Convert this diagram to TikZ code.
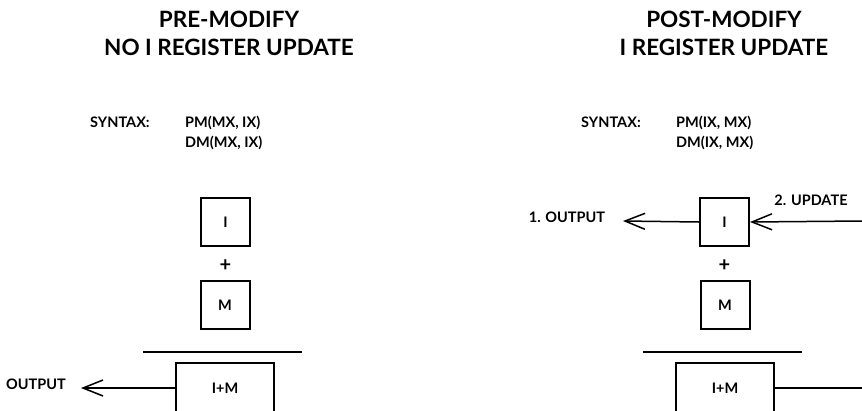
\documentclass[tikz,border=0pt]{standalone}
\usepackage{fontspec}
\setmainfont{Lato}
\usetikzlibrary{arrows.meta}

\begin{document}
\begin{tikzpicture}[x=1pt, y=-1pt,
    every node/.style={font=\bfseries\fontsize{14.5}{20}\selectfont, inner sep=0pt},
    title/.style={font=\bfseries\fontsize{22.5}{28}\selectfont, align=center},
    plus/.style={font=\bfseries\fontsize{20}{20}\selectfont},
    reg/.style={draw, line width=2pt, minimum width=49pt, minimum height=48pt},
    sumreg/.style={draw, line width=2pt, minimum width=98pt, minimum height=50pt},
    flow/.style={line width=1.5pt, -{Straight Barb[length=20pt, width=16pt, line width=1.5pt]}}]
  \useasboundingbox (0,0) rectangle (862,410);
  \clip (0,0) rectangle (862,410);

  % pre-modify
  \node[title] (pretitle) at (229,33) {PRE-MODIFY\\NO I REGISTER UPDATE};
  \node[anchor=west] (presyn) at (90,122) {SYNTAX:};
  \node[anchor=north west, align=left] (precode) at (185,116) {PM(MX, IX)\\DM(MX, IX)};
  \node[reg] (preI) at (225.5,222) {I};
  \node[plus] (preplus) at (225.5,266) {+};
  \node[reg] (preM) at (225,305) {M};
  \coordinate (prebarl) at (143,352);
  \coordinate (prebarr) at (302,352);
  \draw[line width=2pt] (prebarl) -- (prebarr);
  \node[sumreg] (presum) at (225,388) {I+M};
  \coordinate (preout) at (81,388);
  \draw[flow] (presum.west) -- (preout);
  \node (preoutlbl) at (36,384) {OUTPUT};

  % post-modify
  \node[title] (posttitle) at (724,33) {POST-MODIFY\\I REGISTER UPDATE};
  \node[anchor=west] (postsyn) at (581,122) {SYNTAX:};
  \node[anchor=north west, align=left] (postcode) at (676,116) {PM(IX, MX)\\DM(IX, MX)};
  \node[reg] (postI) at (724.5,222) {I};
  \node[plus] (postplus) at (724.5,266) {+};
  \node[reg] (postM) at (725,305) {M};
  \coordinate (postbarl) at (643,352);
  \coordinate (postbarr) at (802,352);
  \draw[line width=2pt] (postbarl) -- (postbarr);
  \node[sumreg] (postsum) at (725,388) {I+M};
  \coordinate (postout) at (623,221);
  \coordinate (updin) at (862,221);
  \coordinate (sumout) at (862,388);
  \draw[flow] (postI.west) -- (postout);
  \draw[flow] (updin) -- (postI.east);
  \draw[line width=1.5pt] (postsum.east) -- (sumout);
  \node (outlbl) at (567,217) {1. OUTPUT};
  \node (updlbl) at (811,200) {2. UPDATE};
\end{tikzpicture}
\end{document}
